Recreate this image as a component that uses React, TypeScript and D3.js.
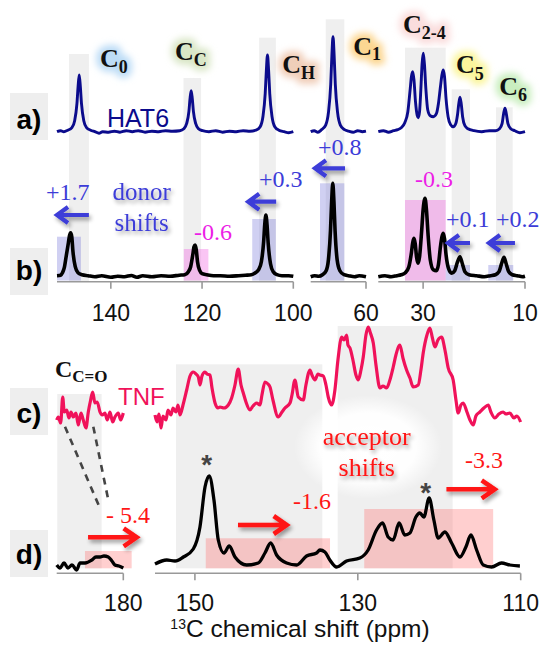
import React from 'react';
import * as d3 from 'd3';

type Pt = [number, number];

// ---------- axes (ppm) ----------
const TOP_SEG_DOMAINS: [number, number][] = [[151.8, 100], [72.07, 60], [38.8, 10]];
const TOP_TICKS: number[][] = [[140, 120, 100], [60], [30, 10]];
const BOT_SEG_DOMAINS: [number, number][] = [[188.2, 180], [154.9, 110]];
const BOT_TICKS: number[][] = [[180], [150, 130, 110]];

// ---------- a) HAT6 ----------
const HAT6_SEG1: Pt[] = [[151.8,0.0],[151.0,0.01],[150.3,0.0],[149.43,0.015],[148.53,0.04],[147.93,0.11],[147.43,0.28],[147.18,0.45],[146.93,0.567],[146.68,0.45],[146.43,0.28],[145.93,0.11],[145.33,0.04],[144.43,0.015],[143.5,0.0],[142.6,-0.015],[141.8,0.0],[140.5,-0.005],[139.2,0.005],[138.0,-0.005],[136.6,0.01],[135.3,0.0],[134.0,0.01],[132.5,-0.005],[131.0,0.005],[129.5,0.0],[128.0,0.01],[126.5,0.005],[124.89,0.01],[123.99,0.03],[123.39,0.08],[122.89,0.2],[122.64,0.33],[122.39,0.41],[122.14,0.33],[121.89,0.2],[121.39,0.08],[120.79,0.03],[119.89,0.01],[118.5,0.0],[117.0,0.01],[115.5,-0.005],[114.0,0.005],[112.5,0.0],[111.0,0.01],[109.5,0.005],[108.16,0.015],[107.26,0.05],[106.66,0.15],[106.16,0.38],[105.91,0.61],[105.66,0.767],[105.41,0.61],[105.16,0.38],[104.66,0.15],[104.06,0.05],[103.16,0.015],[102.0,0.0],[101.0,-0.01],[100.0,0.0]];
const HAT6_SEG2: Pt[] = [[72.07,0.0],[71.3,0.01],[70.5,-0.005],[69.7,0.02],[68.8,0.066],[68.2,0.19],[67.7,0.475],[67.45,0.76],[67.2,0.95],[66.95,0.76],[66.7,0.475],[66.2,0.19],[65.6,0.066],[64.7,0.02],[63.8,0.005],[62.8,-0.005],[61.8,0.01],[60.8,0.0],[60.0,0.005]];
const HAT6_SEG3: Pt[] = [[38.8,0.0],[37.8,0.01],[36.8,-0.005],[35.8,0.01],[35.0,0.02],[34.3,0.04],[33.6,0.09],[33.0,0.2],[32.55,0.42],[32.3,0.55],[32.05,0.6],[31.8,0.52],[31.5,0.3],[31.15,0.16],[30.95,0.14],[30.7,0.2],[30.45,0.42],[30.2,0.68],[29.97,0.784],[29.75,0.68],[29.45,0.42],[29.1,0.22],[28.6,0.16],[28.0,0.15],[27.4,0.18],[27.0,0.28],[26.6,0.45],[26.3,0.57],[26.04,0.617],[25.8,0.55],[25.5,0.33],[25.1,0.15],[24.6,0.07],[24.1,0.05],[23.6,0.08],[23.25,0.17],[23.0,0.28],[22.76,0.344],[22.52,0.28],[22.25,0.15],[21.8,0.06],[21.2,0.03],[20.0,0.01],[18.5,0.0],[17.0,0.01],[15.8,0.01],[15.0,0.03],[14.5,0.08],[14.2,0.18],[13.93,0.234],[13.67,0.18],[13.35,0.08],[12.8,0.03],[12.0,0.01],[11.0,-0.01],[10.0,0.0]];

// ---------- b) complex, donor region ----------
const CPLX_TOP_SEG1: Pt[] = [[151.8,0.01],[151.0,0.015],[150.6,0.04],[150.2,0.09],[149.8,0.2],[149.3,0.34],[149.06,0.41],[148.81,0.44],[148.56,0.4],[148.3,0.25],[147.8,0.1],[147.2,0.04],[146.3,0.02],[145.0,0.01],[143.5,0.0],[142.0,0.01],[140.0,-0.005],[138.5,0.005],[137.0,0.0],[135.5,0.012],[134.3,-0.005],[133.0,0.01],[131.0,0.0],[129.0,0.01],[127.0,0.005],[125.0,0.015],[123.8,0.02],[123.0,0.05],[122.5,0.1],[122.0,0.23],[121.77,0.3],[121.52,0.317],[121.27,0.27],[121.0,0.15],[120.5,0.06],[120.0,0.03],[119.0,0.02],[117.5,0.01],[116.0,0.01],[114.0,0.005],[112.0,0.01],[110.5,0.015],[109.2,0.02],[108.3,0.04],[107.6,0.07],[107.0,0.15],[106.5,0.35],[106.26,0.52],[106.01,0.617],[105.76,0.52],[105.5,0.33],[105.0,0.13],[104.4,0.05],[103.6,0.02],[102.5,0.01],[101.0,0.01],[100.0,0.005]];
const CPLX_TOP_SEG2: Pt[] = [[72.07,0.0],[71.2,0.01],[70.3,0.005],[69.5,0.02],[68.7,0.06],[68.2,0.17],[67.75,0.46],[67.5,0.75],[67.25,0.934],[67.0,0.75],[66.75,0.46],[66.3,0.17],[65.7,0.06],[64.8,0.02],[63.8,0.01],[62.5,0.0],[61.5,0.01],[60.0,0.0]];
const CPLX_TOP_SEG3: Pt[] = [[38.8,0.0],[37.5,0.01],[36.3,0.0],[35.2,0.01],[34.3,0.02],[33.5,0.04],[32.8,0.1],[32.3,0.24],[32.05,0.34],[31.79,0.384],[31.55,0.33],[31.3,0.2],[31.0,0.135],[30.7,0.2],[30.3,0.45],[30.0,0.67],[29.63,0.784],[29.35,0.67],[29.0,0.4],[28.6,0.17],[28.0,0.07],[27.4,0.06],[27.0,0.12],[26.6,0.3],[26.3,0.4],[26.04,0.434],[25.8,0.38],[25.5,0.22],[25.0,0.08],[24.4,0.035],[23.8,0.06],[23.3,0.14],[22.76,0.2],[22.3,0.13],[21.8,0.05],[21.0,0.02],[19.5,0.01],[18.0,0.0],[16.8,0.01],[15.8,0.02],[15.1,0.05],[14.6,0.13],[14.12,0.194],[13.7,0.13],[13.2,0.05],[12.5,0.02],[11.5,0.01],[10.5,0.0],[10.0,0.005]];

// ---------- c) TNF ----------
const TNF_SEG_A: Pt[] = [[188.2,-0.02],[188.0,0.01],[187.71,-0.05],[187.46,0.21],[187.27,0.06],[186.97,0.08],[186.69,0.0],[186.44,0.06],[186.16,0.01],[185.83,0.05],[185.54,-0.07],[185.21,0.05],[184.93,-0.02],[184.6,-0.1],[184.31,0.06],[184.02,0.18],[183.77,0.26],[183.49,0.15],[183.21,0.16],[182.87,0.06],[182.59,0.03],[182.26,0.05],[181.98,-0.02],[181.64,0.06],[181.31,-0.04],[181.03,0.01],[180.62,0.05],[180.33,-0.02],[180.0,0.05]];
const TNF_SEG_B: Pt[] = [[154.9,0.03],[154.65,-0.04],[154.41,0.04],[154.16,-0.1],[153.92,0.02],[153.55,-0.02],[153.3,0.08],[152.94,0.03],[152.69,0.1],[152.32,0.06],[152.08,0.13],[151.83,0.03],[151.46,0.13],[151.01,0.28],[150.6,0.42],[150.2,0.46],[149.87,0.44],[149.58,0.41],[149.38,0.33],[149.13,0.42],[148.76,0.46],[148.52,0.44],[148.15,0.43],[147.9,0.3],[147.53,0.15],[147.17,0.1],[146.92,0.11],[146.43,0.1],[145.9,0.13],[145.49,0.2],[145.08,0.33],[144.68,0.49],[144.34,0.33],[144.06,0.25],[143.73,0.16],[143.24,0.08],[142.87,0.12],[142.42,0.15],[142.01,0.13],[141.77,0.23],[141.4,0.36],[141.03,0.34],[140.78,0.31],[140.42,0.18],[139.77,0.01],[139.31,0.06],[138.94,0.1],[138.33,0.15],[138.08,0.23],[137.72,0.38],[137.31,0.21],[136.7,0.18],[136.37,0.33],[135.87,0.48],[135.63,0.43],[135.26,0.38],[134.89,0.44],[134.65,0.43],[134.24,0.42],[133.91,0.33],[133.63,0.21],[133.21,0.13],[132.81,0.28],[132.44,0.58],[131.98,0.81],[131.7,0.78],[131.37,0.83],[131.21,0.73],[130.96,0.7],[130.6,0.58],[130.23,0.43],[129.94,0.38],[129.61,0.48],[129.33,0.61],[129.0,0.83],[128.72,0.91],[128.45,0.85],[128.1,0.75],[127.77,0.53],[127.28,0.3],[126.91,0.32],[126.46,0.3],[126.06,0.38],[125.65,0.51],[125.32,0.63],[124.83,0.73],[124.46,0.6],[124.01,0.48],[123.6,0.4],[123.2,0.31],[122.58,0.33],[122.25,0.48],[121.97,0.65],[121.51,0.83],[121.15,0.9],[120.84,0.8],[120.53,0.71],[120.16,0.78],[119.71,0.81],[119.3,0.68],[118.9,0.5],[118.29,0.38],[117.95,0.18],[117.67,0.05],[117.34,0.13],[117.06,0.15],[116.6,0.06],[116.23,-0.02],[115.83,-0.07],[115.5,0.02],[115.01,0.06],[114.52,0.1],[113.99,0.13],[113.66,0.06],[113.17,0.0],[112.68,0.04],[112.15,0.06],[111.82,0.04],[111.33,0.05],[110.84,0.0],[110.47,0.02],[110.01,-0.04]];

// ---------- d) complex, acceptor region ----------
const CPLX_BOT_SEG_A: Pt[] = [[188.2,0.01],[187.79,-0.02],[187.3,0.03],[186.81,-0.02],[186.32,0.01],[185.74,-0.04],[185.33,0.03],[184.71,0.03],[183.86,0.06],[183.37,0.09],[182.87,0.09],[182.38,0.1],[181.85,0.09],[181.4,0.05],[181.03,0.01],[180.54,0.0],[180.0,-0.02]];
const CPLX_BOT_SEG_B: Pt[] = [[154.9,0.02],[153.46,0.06],[152.44,0.05],[151.42,0.09],[150.2,0.17],[149.38,0.39],[148.76,0.79],[148.24,0.9],[147.66,0.66],[147.13,0.26],[146.43,0.13],[145.78,0.2],[145.08,0.09],[143.65,0.01],[142.22,0.03],[141.4,0.13],[140.7,0.23],[139.97,0.11],[138.74,0.03],[137.51,0.01],[136.29,0.1],[135.06,0.13],[134.65,0.16],[134.04,0.14],[133.43,0.06],[132.6,-0.01],[131.38,0.05],[129.75,0.08],[128.73,0.16],[127.7,0.36],[126.96,0.43],[126.28,0.29],[125.66,0.26],[124.93,0.43],[124.23,0.31],[123.6,0.33],[122.87,0.49],[122.38,0.53],[121.89,0.49],[121.24,0.68],[120.66,0.46],[120.13,0.28],[119.3,0.34],[118.48,0.23],[117.46,0.09],[116.73,0.19],[116.11,0.31],[115.41,0.16],[114.6,0.01],[113.57,-0.01],[112.35,0.03],[111.33,0.01],[110.1,0.0]];

// ---------- annotation regions (ppm ranges, heights in panel units) ----------
const TOP_BANDS = [
  { seg: 0, from: 149.18, to: 144.81, top: 0.777 },
  { seg: 0, from: 124.07, to: 120.21, top: 0.537 },
  { seg: 0, from: 107.48, to: 103.83, top: 0.94 },
  { seg: 1, from: 68.79, to: 64.73, top: 1.124 },
  { seg: 2, from: 33.56, to: 25.57, top: 0.84 },
  { seg: 2, from: 24.39, to: 20.8, top: 0.424 },
  { seg: 2, from: 15.69, to: 12.42, top: 0.244 },
];
const DONOR_BOXES = [
  { seg: 0, from: 151.8, to: 146.56, top: 0.4, kind: 'up' },
  { seg: 0, from: 124.0, to: 118.61, top: 0.277, kind: 'down' },
  { seg: 0, from: 109.0, to: 103.83, top: 0.577, kind: 'up' },
  { seg: 1, from: 70.04, to: 64.73, top: 0.934, kind: 'up' },
  { seg: 2, from: 33.56, to: 25.57, top: 0.767, kind: 'down' },
  { seg: 2, from: 25.57, to: 20.8, top: 0.117, kind: 'up' },
  { seg: 2, from: 17.21, to: 12.3, top: 0.117, kind: 'up' },
];
const DONOR_ARROWS = [
  { seg: 0, from: 144.81, to: 151.8, y: 0.617 },
  { seg: 0, from: 103.76, to: 109.88, y: 0.75 },
  { seg: 1, from: 64.58, to: 71.13, y: 1.084 },
  { seg: 2, from: 20.8, to: 25.12, y: 0.337 },
  { seg: 2, from: 11.97, to: 17.07, y: 0.337 },
];
const BOT_BANDS = [
  { seg: 0, from: 188.13, to: 182.67, top: 0.24 },
  { seg: 1, from: 152.32, to: 134.36, top: 0.537 },
  { seg: 1, from: 132.47, to: 118.36, top: 0.92 },
];
const ACCEPTOR_BOXES = [
  { seg: 0, from: 184.72, to: 178.97, top: 0.15 },
  { seg: 1, from: 148.67, to: 133.41, top: 0.277 },
  { seg: 1, from: 129.21, to: 113.38, top: 0.57 },
];
const ACCEPTOR_ARROWS = [
  { seg: 0, from: 184.34, to: 178.35, y: 0.287 },
  { seg: 1, from: 144.71, to: 138.73, y: 0.41 },
  { seg: 1, from: 119.12, to: 113.19, y: 0.767 },
];
const DONOR_SHIFT_TEXT = ['+1.7', '-0.6', '+0.3', '+0.8', '-0.3', '+0.1', '+0.2'];
const ACCEPTOR_SHIFT_TEXT = ['- 5.4', '-1.6', '-3.3'];
const PEAK_LABELS = [
  { sub: '0', glow: '#bcdcf6' },
  { sub: 'C', glow: '#d9e6c6' },
  { sub: 'H', glow: '#f0cdb8' },
  { sub: '1', glow: '#fcd690' },
  { sub: '2-4', glow: '#fadcdc' },
  { sub: '5', glow: '#faf59a' },
  { sub: '6', glow: '#c8eebe' },
];

const NAVY = '#0b0b8c';
const CRIMSON = '#f0125a';
const BLUE = '#3c3cd8';
const MAGENTA = '#ec1ee6';
const RED = '#ff1616';
const SERIF = "'Liberation Serif', 'DejaVu Serif', serif";
const SANS = "'Liberation Sans', Arial, sans-serif";

export default function App() {
  const W = 545, H = 646;
  const topRanges: [number, number][] = [[57, 293.3], [310.7, 366], [378.3, 525]];
  const botRanges: [number, number][] = [[56.7, 123.3], [155, 520.7]];
  const topX = TOP_SEG_DOMAINS.map((d, i) => d3.scaleLinear().domain(d).range(topRanges[i]));
  const botX = BOT_SEG_DOMAINS.map((d, i) => d3.scaleLinear().domain(d).range(botRanges[i]));
  const yA = d3.scaleLinear().domain([0, 1]).range([131.7, 31.7]);
  const yB = d3.scaleLinear().domain([0, 1]).range([276.7, 176.7]);
  const yC = d3.scaleLinear().domain([0, 1]).range([418, 318]);
  const yD = d3.scaleLinear().domain([0, 1]).range([566, 466]);
  const topAxisY = 281.7;
  const botAxisY = 573.3;

  const line = (xs: d3.ScaleLinear<number, number>, ys: d3.ScaleLinear<number, number>) =>
    d3.line<Pt>().x(p => xs(p[0])).y(p => ys(p[1])).curve(d3.curveMonotoneX);

  const hat6 = [HAT6_SEG1, HAT6_SEG2, HAT6_SEG3];
  const cplxTop = [CPLX_TOP_SEG1, CPLX_TOP_SEG2, CPLX_TOP_SEG3];
  const tnf = [TNF_SEG_A, TNF_SEG_B];
  const cplxBot = [CPLX_BOT_SEG_A, CPLX_BOT_SEG_B];

  const arrowPath = (x1: number, x2: number, y: number, hl: number, hw: number) => {
    const dir = x2 > x1 ? 1 : -1;
    return `M${x1},${y}L${x2},${y}M${x2 - dir * hl},${y - hw}L${x2},${y}L${x2 - dir * hl},${y + hw}`;
  };

  // layout of annotation texts
  const donorTextPos = [
    { x: 46, y: 200, c: BLUE, a: 'start' },
    { x: 213, y: 240, c: MAGENTA, a: 'middle' },
    { x: 259, y: 186.7, c: BLUE, a: 'start' },
    { x: 318, y: 155, c: BLUE, a: 'start' },
    { x: 434, y: 186.7, c: MAGENTA, a: 'middle' },
    { x: 446, y: 227.3, c: BLUE, a: 'start' },
    { x: 496, y: 227.3, c: BLUE, a: 'start' },
  ];
  const accTextPos = [
    { x: 106, y: 522.7 },
    { x: 293, y: 509.3 },
    { x: 465, y: 468.3 },
  ];
  const peakLabelPos = [
    { x: 100, y: 66.7, dy: 6.6 },
    { x: 175, y: 60, dy: 5.7 },
    { x: 282.3, y: 72.7, dy: 6.3 },
    { x: 353.3, y: 55, dy: 5 },
    { x: 403, y: 32.5, dy: 6 },
    { x: 456, y: 73.3, dy: 6.7 },
    { x: 499.3, y: 95, dy: 5.5 },
  ];
  const panelLabels = [
    { t: 'a)', y: 93, by: 128.5 },
    { t: 'b)', y: 248, by: 280 },
    { t: 'c)', y: 388, by: 423 },
    { t: 'd)', y: 530, by: 564 },
  ];

  return (
    <svg width={W} height={H} viewBox={`0 0 ${W} ${H}`}
      style={{ position: 'absolute', left: 0, top: 0, display: 'block', background: '#fff' }}>
      <defs>
        <filter id="glow" x="-60%" y="-60%" width="220%" height="220%">
          <feGaussianBlur stdDeviation="3.5" />
        </filter>
        <filter id="shadow" x="-30%" y="-40%" width="170%" height="200%">
          <feGaussianBlur in="SourceAlpha" stdDeviation="2" />
          <feOffset dx="2" dy="3" result="off" />
          <feComponentTransfer><feFuncA type="linear" slope="0.4" /></feComponentTransfer>
          <feMerge><feMergeNode /><feMergeNode in="SourceGraphic" /></feMerge>
        </filter>
        <radialGradient id="wglow">
          <stop offset="0" stopColor="#fff" stopOpacity="1" />
          <stop offset="0.65" stopColor="#fff" stopOpacity="0.95" />
          <stop offset="1" stopColor="#fff" stopOpacity="0" />
        </radialGradient>
      </defs>

      {/* panel labels */}
      {panelLabels.map((p, i) => (
        <g key={'pl' + i}>
          <rect x={10} y={p.y} width={38} height={47} fill="#eeeeee" />
          <text x={29} y={p.by} textAnchor="middle" fontFamily={SANS} fontWeight="bold" fontSize={28}>{p.t}</text>
        </g>
      ))}

      {/* top gray bands */}
      {TOP_BANDS.map((b, i) => {
        const xs = topX[b.seg];
        return <rect key={'tb' + i} x={xs(b.from)} width={xs(b.to) - xs(b.from)} y={yA(b.top)}
          height={topAxisY - yA(b.top)} fill="#efefef" />;
      })}
      {/* donor shift boxes */}
      {DONOR_BOXES.map((b, i) => {
        const xs = topX[b.seg];
        return <rect key={'db' + i} x={xs(b.from)} width={xs(b.to) - xs(b.from)} y={yB(b.top)}
          height={280.5 - yB(b.top)} fill={b.kind === 'up' ? 'rgba(110,110,215,0.32)' : 'rgba(242,110,228,0.4)'} />;
      })}

      {/* bottom gray bands */}
      {BOT_BANDS.map((b, i) => {
        const xs = botX[b.seg];
        return <rect key={'bb' + i} x={xs(b.from)} width={xs(b.to) - xs(b.from)} y={yC(b.top)}
          height={568.3 - yC(b.top)} fill="#efefef" />;
      })}
      <ellipse cx={368} cy={447} rx={74} ry={52} fill="url(#wglow)" />
      {ACCEPTOR_BOXES.map((b, i) => {
        const xs = botX[b.seg];
        return <rect key={'ab' + i} x={xs(b.from)} width={xs(b.to) - xs(b.from)} y={yD(b.top)}
          height={568.3 - yD(b.top)} fill="rgba(255,110,110,0.33)" />;
      })}

      {/* axes */}
      {topX.map((xs, i) => (
        <g key={'ta' + i}>
          <line x1={topRanges[i][0]} x2={topRanges[i][1]} y1={topAxisY} y2={topAxisY} stroke="#999" strokeWidth={1.6} />
          {TOP_TICKS[i].map(t => (
            <g key={t}>
              <line x1={xs(t)} x2={xs(t)} y1={topAxisY} y2={topAxisY + 7} stroke="#999" strokeWidth={1.6} />
              <text x={xs(t)} y={320.5} textAnchor="middle" fontFamily={SANS} fontSize={23} fill="#111">{t}</text>
            </g>
          ))}
        </g>
      ))}
      {botX.map((xs, i) => (
        <g key={'ba' + i}>
          <line x1={botRanges[i][0]} x2={botRanges[i][1]} y1={botAxisY} y2={botAxisY} stroke="#999" strokeWidth={1.6} />
          {BOT_TICKS[i].map(t => (
            <g key={t}>
              <line x1={xs(t)} x2={xs(t)} y1={botAxisY} y2={botAxisY + 7} stroke="#999" strokeWidth={1.6} />
              <text x={xs(t)} y={611.2} textAnchor="middle" fontFamily={SANS} fontSize={23} fill="#111">{t}</text>
            </g>
          ))}
        </g>
      ))}
      <text x={300} y={637} textAnchor="middle" fontFamily={SANS} fontSize={24.5} fill="#111">
        <tspan fontSize={14} dy={-8}>13</tspan><tspan dy={8}>C chemical shift (ppm)</tspan>
      </text>

      {/* spectra */}
      {hat6.map((d, i) => (
        <path key={'a' + i} d={line(topX[i], yA)(d) || ''} fill="none" stroke={NAVY} strokeWidth={2.9} strokeLinejoin="round" />
      ))}
      {cplxTop.map((d, i) => (
        <path key={'b' + i} d={line(topX[i], yB)(d) || ''} fill="none" stroke="#000" strokeWidth={3.6} strokeLinejoin="round" />
      ))}
      {tnf.map((d, i) => (
        <path key={'c' + i} d={line(botX[i], yC)(d) || ''} fill="none" stroke={CRIMSON} strokeWidth={3.2} strokeLinejoin="round" />
      ))}
      {cplxBot.map((d, i) => (
        <path key={'d' + i} d={line(botX[i], yD)(d) || ''} fill="none" stroke="#000" strokeWidth={3.3} strokeLinejoin="round" />
      ))}

      {/* dashed correlation lines */}
      <line x1={65} y1={426.7} x2={100} y2={508.3} stroke="#444" strokeWidth={2.6} strokeDasharray="7,6" />
      <line x1={93.3} y1={426.7} x2={108.3} y2={500} stroke="#444" strokeWidth={2.6} strokeDasharray="7,6" />

      {/* series names */}
      <text x={107} y={126.7} fontFamily={SANS} fontSize={25} fill={NAVY}>HAT6</text>
      <text x={118} y={405} fontFamily={SANS} fontSize={24} fill={CRIMSON}>TNF</text>

      {/* peak labels */}
      {PEAK_LABELS.map((p, i) => {
        const pos = peakLabelPos[i];
        const content = (
          <>
            <tspan>C</tspan><tspan fontSize={18} dy={pos.dy}>{p.sub}</tspan>
          </>
        );
        return (
          <g key={'lab' + i}>
            <text x={pos.x} y={pos.y} fontFamily={SERIF} fontWeight="bold" fontSize={26}
              fill={p.glow} stroke={p.glow} strokeWidth={10} strokeLinejoin="round" filter="url(#glow)">{content}</text>
            <text x={pos.x} y={pos.y} fontFamily={SERIF} fontWeight="bold" fontSize={26} fill="#111">{content}</text>
          </g>
        );
      })}
      <text x={55} y={377.3} fontFamily={SERIF} fontWeight="bold" fontSize={24} fill="#111">
        <tspan>C</tspan><tspan fontSize={17} dy={4.4}>C=O</tspan>
      </text>

      {/* donor annotations */}
      {DONOR_ARROWS.map((a, i) => (
        <path key={'da' + i} d={arrowPath(topX[a.seg](a.from), topX[a.seg](a.to), yB(a.y), 11, 8)}
          fill="none" stroke={BLUE} strokeWidth={4.2} filter="url(#shadow)" />
      ))}
      {DONOR_SHIFT_TEXT.map((t, i) => {
        const p = donorTextPos[i];
        return <text key={'dt' + i} x={p.x} y={p.y} textAnchor={p.a as any} fontFamily={SERIF} fontSize={24} fill={p.c}>{t}</text>;
      })}
      <g filter="url(#shadow)">
        <text x={141.7} y={200} textAnchor="middle" fontFamily={SERIF} fontSize={25} fill={BLUE}>donor</text>
        <text x={141.7} y={230.7} textAnchor="middle" fontFamily={SERIF} fontSize={25} fill={BLUE}>shifts</text>
      </g>

      {/* acceptor annotations */}
      {ACCEPTOR_ARROWS.map((a, i) => (
        <path key={'aa' + i} d={arrowPath(botX[a.seg](a.from), botX[a.seg](a.to), yD(a.y), 13, 9)}
          fill="none" stroke={RED} strokeWidth={4.6} filter="url(#shadow)" />
      ))}
      {ACCEPTOR_SHIFT_TEXT.map((t, i) => {
        const p = accTextPos[i];
        return <text key={'at' + i} x={p.x} y={p.y} fontFamily={SERIF} fontSize={24} fill={RED}>{t}</text>;
      })}
      <g filter="url(#shadow)">
        <text x={366.7} y={445} textAnchor="middle" fontFamily={SERIF} fontSize={26} fill={RED}>acceptor</text>
        <text x={366.7} y={476} textAnchor="middle" fontFamily={SERIF} fontSize={26} fill={RED}>shifts</text>
      </g>
      <text x={206.7} y={474} textAnchor="middle" fontFamily={SANS} fontWeight="bold" fontSize={28} fill="#444">*</text>
      <text x={425.7} y={501.5} textAnchor="middle" fontFamily={SANS} fontWeight="bold" fontSize={28} fill="#444">*</text>
    </svg>
  );
}
